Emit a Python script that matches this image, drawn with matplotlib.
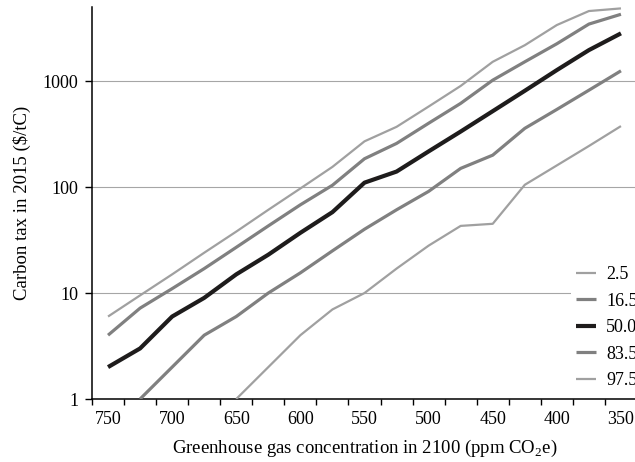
import numpy as np
import matplotlib
matplotlib.use("Agg")
import matplotlib.pyplot as plt

plt.rcParams["font.family"] = ["Liberation Serif", "DejaVu Serif"]
plt.rcParams["mathtext.fontset"] = "custom"
plt.rcParams["mathtext.rm"] = "Liberation Serif"

# categories: greenhouse gas concentration in 2100 (ppm CO2e)
concentration = [750, 725, 700, 675, 650, 625, 600, 575, 550,
                 525, 500, 475, 450, 425, 400, 375, 350]

# carbon tax in 2015 ($/tC) per percentile
nan = np.nan
p2_5 = [nan, nan, nan, nan, 1, 2, 4, 7, 10, 17, 28, 43, 45, 105, 160, 244, 376]
p16_5 = [nan, 1, 2, 4, 6, 10, 15.5, 25, 40, 61, 91, 150, 200, 358, 540, 820, 1250]
p50_0 = [2, 3, 6, 9, 15, 23, 37, 58, 110, 140, 217, 334, 520, 810, 1270, 1960, 2820]
p83_5 = [4, 7.2, 11, 17, 27, 43, 68, 104, 185, 258, 400, 616, 1020, 1520, 2250, 3450, 4270]
p97_5 = [6, 9.5, 15, 24, 38, 61, 97, 155, 270, 370, 575, 900, 1520, 2180, 3380, 4580, 4850]

series = [
    ("2.5", p2_5, "#a0a0a0", 1.6),
    ("16.5", p16_5, "#808080", 2.3),
    ("50.0", p50_0, "#1e1c1c", 3.0),
    ("83.5", p83_5, "#808080", 2.3),
    ("97.5", p97_5, "#a0a0a0", 1.6),
]

fig = plt.figure(figsize=(6.35, 4.62), dpi=100)
ax = fig.add_axes([92 / 635, 63 / 462, 545 / 635, 392 / 462])

x = np.arange(len(concentration))
for name, vals, col, lw in series:
    ax.plot(x, vals, color=col, lw=lw, label=name, solid_capstyle="butt",
            clip_on=True, zorder=3)

ax.set_yscale("log")
ax.set_ylim(1, 5000)
ax.set_xlim(-0.5, len(concentration) - 0.5)

ax.set_yticks([1, 10, 100, 1000])
ax.set_yticklabels(["1", "10", "100", "1000"])
ax.minorticks_off()
ax.yaxis.grid(True, color="#a6a6a6", lw=0.8)
ax.set_axisbelow(True)

ax.set_xticks(x[::2])
ax.set_xticklabels([str(c) for c in concentration[::2]])
ax.set_xticks(np.arange(-0.5, len(concentration)), minor=True)
ax.tick_params(axis="x", which="major", length=0, pad=9, labelsize=13)
ax.tick_params(axis="x", which="minor", length=4, width=1, direction="out")
ax.tick_params(axis="y", length=5, width=1, direction="out", pad=5, labelsize=13)

for s in ["top", "right"]:
    ax.spines[s].set_visible(False)
for s in ["left", "bottom"]:
    ax.spines[s].set_linewidth(1.1)
    ax.spines[s].set_color("black")

ax.set_xlabel("Greenhouse gas concentration in 2100 (ppm CO$_2$e)", fontsize=13.5, labelpad=7)
ax.set_ylabel("Carbon tax in 2015 ($/tC)", fontsize=13.5, labelpad=8)

# legend is cut by the right edge, as in the source figure
leg = fig.legend(loc="upper left", bbox_to_anchor=(571 / 635, 1 - 261 / 462),
                 borderaxespad=0, frameon=True, fancybox=False, framealpha=1,
                 facecolor="white", edgecolor="none", fontsize=13,
                 handlelength=1.1, handletextpad=0.55, labelspacing=0.52,
                 borderpad=0.3)

fig.savefig("out.png", dpi=100)
